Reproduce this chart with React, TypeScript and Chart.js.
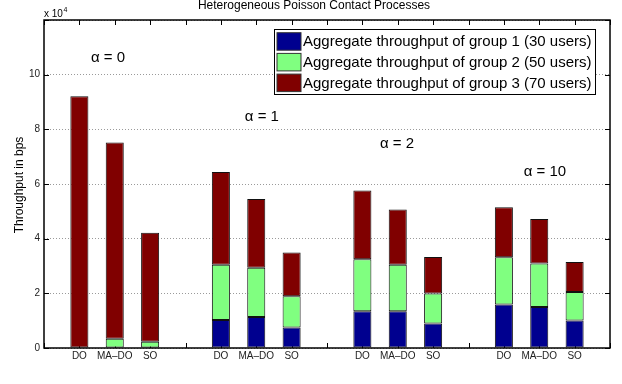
import React, { useEffect, useRef } from 'react';
import { Chart, registerables } from 'chart.js';

Chart.register(...registerables);

// Values in units of 10^4 bps
const xTickLabels = ['', 'DO', 'MA\u2013DO', 'SO', '', 'DO', 'MA\u2013DO', 'SO', '', 'DO', 'MA\u2013DO', 'SO', '', 'DO', 'MA\u2013DO', 'SO', ''];
const group1 = [0, 0, 0, 1.02, 1.13, 0.75, 1.34, 1.34, 0.9, 1.59, 1.5, 1.01];
const group2 = [0, 0.34, 0.23, 2.03, 1.81, 1.14, 1.91, 1.71, 1.09, 1.73, 1.59, 1.04];
const group3 = [9.21, 7.18, 3.99, 3.39, 2.51, 1.6, 2.51, 2.02, 1.34, 1.83, 1.63, 1.1];
const seriesNames = [
  'Aggregate throughput of group 1 (30 users)',
  'Aggregate throughput of group 2 (50 users)',
  'Aggregate throughput of group 3 (70 users)',
];
const seriesColors = ['#00008F', '#80FF80', '#800000'];
const alphaLabels = ['\u03B1 = 0', '\u03B1 = 1', '\u03B1 = 2', '\u03B1 = 10'];
const alphaX = [1.81, 6.16, 9.98, 14.16];
const alphaY = [10.61, 8.45, 7.48, 6.44];
const yTicks = [0, 2, 4, 6, 8, 10];

const positions = xTickLabels.map((l, i) => (l ? i : -1)).filter((i) => i >= 0);
const FONT = '"Liberation Sans", Arial, Helvetica, sans-serif';

const decor = {
  id: 'decor',
  beforeDatasetsDraw(chart: any) {
    const { ctx, chartArea: a, scales } = chart;
    const x = scales.x, y = scales.y;
    ctx.save();
    ctx.strokeStyle = '#000';
    ctx.lineWidth = 1;
    ctx.beginPath();
    x.ticks.forEach((t: any) => {
      const px = Math.round(x.getPixelForValue(t.value)) + 0.5;
      ctx.moveTo(px, a.bottom);
      ctx.lineTo(px, a.bottom - 5);
      ctx.moveTo(px, a.top);
      ctx.lineTo(px, a.top + 5);
    });
    y.ticks.forEach((t: any) => {
      const py = Math.round(y.getPixelForValue(t.value)) + 0.5;
      ctx.moveTo(a.left, py);
      ctx.lineTo(a.left + 5, py);
      ctx.moveTo(a.right, py);
      ctx.lineTo(a.right - 5, py);
    });
    ctx.stroke();
    ctx.restore();
  },
  afterDatasetsDraw(chart: any) {
    const { ctx, chartArea: a, scales } = chart;
    const x = scales.x, y = scales.y;
    ctx.save();
    // frame
    ctx.strokeStyle = '#000';
    ctx.lineWidth = 1.5;
    ctx.strokeRect(a.left, a.top, a.right - a.left, a.bottom - a.top);

    // annotations
    ctx.fillStyle = '#000';
    ctx.font = `15px ${FONT}`;
    ctx.textAlign = 'center';
    ctx.textBaseline = 'middle';
    alphaLabels.forEach((lbl, i) => {
      ctx.fillText(lbl, x.getPixelForValue(alphaX[i]), y.getPixelForValue(alphaY[i]));
    });

    // legend
    const lx = 274, ly = 29, lw = 321, lh = 65;
    ctx.fillStyle = '#fff';
    ctx.fillRect(lx, ly, lw, lh);
    ctx.lineWidth = 1;
    ctx.strokeStyle = '#000';
    ctx.strokeRect(lx + 0.5, ly + 0.5, lw, lh);
    ctx.font = `15px ${FONT}`;
    ctx.textAlign = 'left';
    ctx.textBaseline = 'middle';
    seriesNames.forEach((name, i) => {
      const ry = 32.7 + i * 20.7;
      ctx.fillStyle = seriesColors[i];
      ctx.fillRect(277, ry, 24, 17.5);
      ctx.strokeStyle = '#333';
      ctx.strokeRect(277, ry, 24, 17.5);
      ctx.fillStyle = '#000';
      ctx.fillText(name, 303, ry + 9.5);
    });

    // title
    ctx.font = `12px ${FONT}`;
    ctx.textAlign = 'center';
    ctx.textBaseline = 'middle';
    ctx.fillText('Heterogeneous Poisson Contact Processes', 314, 6);

    // y label
    ctx.save();
    ctx.translate(20, (a.top + a.bottom) / 2 + 1);
    ctx.rotate(-Math.PI / 2);
    ctx.fillText('Throughput in bps', 0, 0);
    ctx.restore();

    // exponent
    ctx.font = `10px ${FONT}`;
    ctx.textAlign = 'left';
    ctx.textBaseline = 'middle';
    ctx.fillText('x 10', 44, 14);
    const w = ctx.measureText('x 10').width;
    ctx.font = `7px ${FONT}`;
    ctx.fillText('4', 44 + w + 0.5, 10);
    ctx.restore();
  },
};

export default function App() {
  const ref = useRef<HTMLCanvasElement | null>(null);
  useEffect(() => {
    if (!ref.current) return;
    const mk = (vals: number[]) => vals.map((v, i) => ({ x: positions[i], y: v }));
    const chart = new Chart(ref.current, {
      type: 'bar',
      data: {
        datasets: [group1, group2, group3].map((vals, i) => ({
          label: seriesNames[i],
          data: mk(vals),
          backgroundColor: seriesColors[i],
          borderColor: '#111',
          borderWidth: 1,
          borderSkipped: false,
          categoryPercentage: 1,
          barPercentage: 0.51,
        })),
      },
      options: {
        animation: false,
        responsive: false,
        maintainAspectRatio: false,
        layout: { padding: { left: 0, right: 12, top: 20, bottom: 0 } },
        plugins: { legend: { display: false }, title: { display: false }, tooltip: { enabled: false } },
        scales: {
          x: {
            type: 'linear',
            min: 0,
            max: 16,
            offset: false,
            stacked: true,
            grid: { display: false, drawTicks: false, offset: false },
            border: { display: false },
            afterFit: (s: any) => { s.height = 36; },
            afterBuildTicks: (s: any) => { s.ticks = xTickLabels.map((_, i) => ({ value: i })); },
            ticks: {
              autoSkip: false,
              maxRotation: 0,
              padding: 2,
              color: '#222',
              font: { family: FONT, size: 10 },
              callback: (v: any) => xTickLabels[v] ?? '',
            },
          },
          y: {
            type: 'linear',
            min: 0,
            max: 12,
            stacked: true,
            grid: { color: '#9a9a9a', lineWidth: 1, drawTicks: false, borderDash: [1, 2] } as any,
            border: { display: false, dash: [1, 2] },
            afterFit: (s: any) => { s.width = 44; },
            afterBuildTicks: (s: any) => { s.ticks = [...yTicks, 12].map((v) => ({ value: v })); },
            ticks: {
              padding: 4,
              color: '#222',
              font: { family: FONT, size: 10 },
              callback: (v: any) => (yTicks.includes(v) ? String(v) : ''),
            },
          },
        },
      },
      plugins: [decor],
    });
    return () => chart.destroy();
  }, []);
  return (
    <div style={{ position: 'fixed', left: 0, top: 0, width: 622, height: 384, background: '#fff' }}>
      <canvas ref={ref} width={622} height={384} style={{ width: 622, height: 384 }} />
    </div>
  );
}
